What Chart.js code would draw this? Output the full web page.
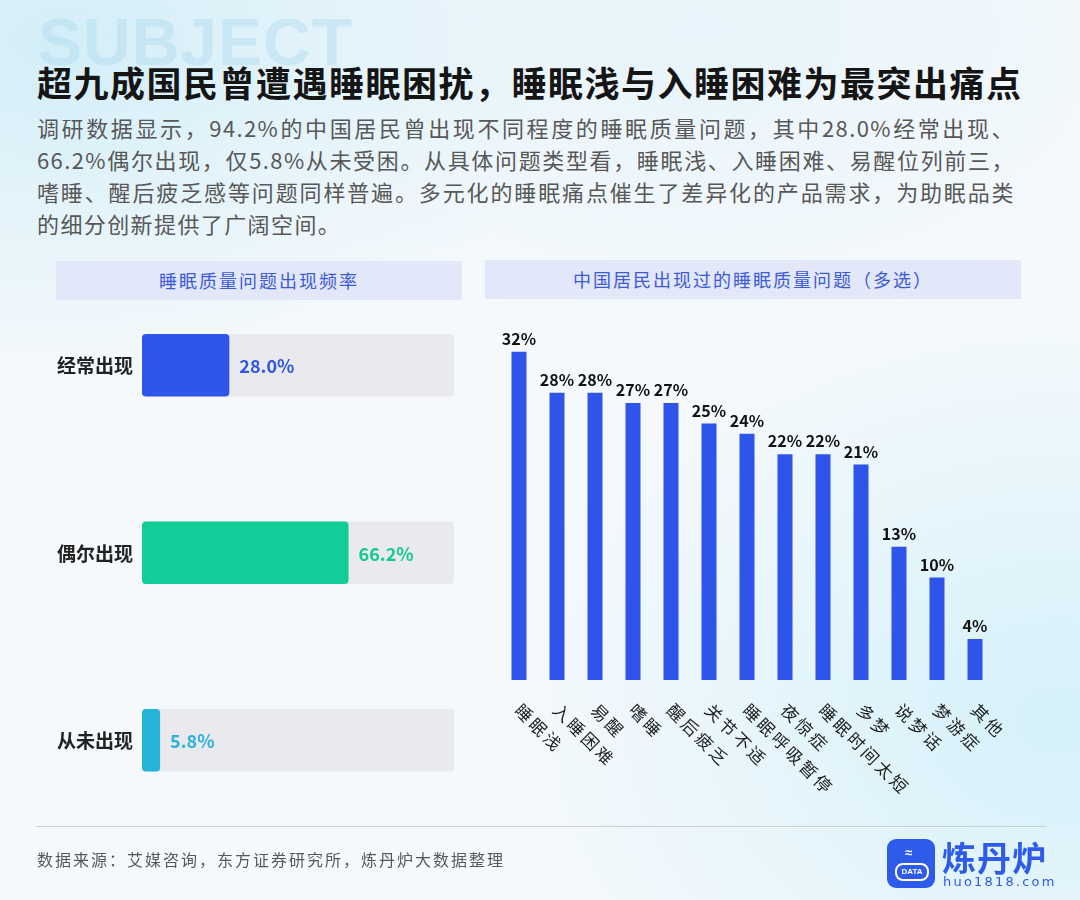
<!DOCTYPE html>
<html>
<head>
<meta charset="utf-8">
<script src="https://cdn.jsdelivr.net/npm/chart.js@4/dist/chart.umd.min.js"></script>
<style>
  html, body { margin:0; padding:0; }
  body {
    width:1080px; height:900px; position:relative; overflow:hidden;
    font-family:"Noto Sans CJK SC","Noto Sans",sans-serif;
    background:
      radial-gradient(ellipse 520px 340px at 60px 40px, rgba(205,236,248,0.85), rgba(205,236,248,0) 100%),
      radial-gradient(ellipse 560px 420px at 1060px 720px, rgba(210,240,250,0.9), rgba(210,240,250,0) 100%),
      radial-gradient(ellipse 500px 300px at 700px 30px, rgba(225,242,250,0.7), rgba(225,242,250,0) 100%),
      #F5F9FC;
  }
  .abs { position:absolute; }
  #wm { left:38px; top:2px; font-family:"Liberation Sans","DejaVu Sans",sans-serif; font-weight:bold; font-size:66px; color:rgba(170,215,238,0.4); letter-spacing:1px; line-height:80px; }
  #title { left:37px; top:62px; font-size:35px; font-weight:bold; color:#151515; letter-spacing:1.5px; line-height:40px; white-space:nowrap; }
  .sub { left:37px; width:978px; font-size:22px; letter-spacing:1.4px; color:#585858; line-height:32px; }
  .sub.j { text-align:justify; text-align-last:justify; }
  .hdr { height:39px; background:#E2E7FA; color:#3D5AD8; font-size:18px; letter-spacing:2px; line-height:39px; text-align:center; z-index:5; }
  #footline { left:36px; top:826px; width:1010px; height:1px; background:#CFCFCF; }
  #src { left:37px; top:846px; font-size:16px; letter-spacing:2px; color:#585858; line-height:26px; }
  #logo { left:887px; top:839px; width:48px; height:49px; border-radius:9px; background:#2F5BEA; }
  #logo .cup { position:absolute; left:8px; top:24px; width:30px; height:14px; border:2px solid #fff; border-radius:8px; color:#fff; font-size:8px; font-weight:bold; line-height:14px; text-align:center; font-family:"Liberation Sans",sans-serif; }
  #logo .steam { position:absolute; left:18px; top:7px; color:#fff; font-size:13px; font-weight:bold; line-height:14px; font-family:"Liberation Sans",sans-serif; }
  #brand { left:942px; top:838px; font-size:34px; font-weight:bold; color:#2F5BEA; line-height:38px; letter-spacing:1px; }
  #url { left:943px; top:874px; font-size:13px; letter-spacing:2.2px; color:#2F5BEA; line-height:16px; font-family:"DejaVu Sans","Noto Sans",sans-serif; }
  canvas { position:absolute; }
</style>
</head>
<body>
<div id="wm" class="abs">SUBJECT</div>
<div id="title" class="abs">超九成国民曾遭遇睡眠困扰，睡眠浅与入睡困难为最突出痛点</div>
<div class="abs sub j" style="top:111px;">调研数据显示，94.2%的中国居民曾出现不同程度的睡眠质量问题，其中28.0%经常出现、</div>
<div class="abs sub j" style="top:143px;">66.2%偶尔出现，仅5.8%从未受困。从具体问题类型看，睡眠浅、入睡困难、易醒位列前三，</div>
<div class="abs sub j" style="top:175px;">嗜睡、醒后疲乏感等问题同样普遍。多元化的睡眠痛点催生了差异化的产品需求，为助眠品类</div>
<div class="abs sub" style="top:207px;">的细分创新提供了广阔空间。</div>

<div class="abs hdr" style="left:56px; top:261px; width:406px;">睡眠质量问题出现频率</div>
<div class="abs hdr" style="left:485px; top:260px; width:536px;">中国居民出现过的睡眠质量问题（多选）</div>

<canvas id="left" width="440" height="590" style="left:30px; top:260px; width:440px; height:590px;"></canvas>
<canvas id="right" width="514" height="540" style="left:490px; top:300px; width:514px; height:540px;"></canvas>

<div id="footline" class="abs"></div>
<div id="src" class="abs">数据来源：艾媒咨询，东方证券研究所，炼丹炉大数据整理</div>
<div id="logo" class="abs"><div class="steam">≈</div><div class="cup">DATA</div></div>
<div id="brand" class="abs">炼丹炉</div>
<div id="url" class="abs">huo1818.com</div>

<script>
// ---------- data ----------
const freqCategories = ['经常出现', '偶尔出现', '从未出现'];
const freqValues = [28.0, 66.2, 5.8];
const freqTrack = [100, 100, 100];
const freqColors = ['#2F55E9', '#12CD9A', '#25B3D8'];
const freqLabelColors = ['#3156E2', '#14C995', '#2AB1DC'];

const issueCategories = ['睡眠浅', '入睡困难', '易醒', '嗜睡', '醒后疲乏', '关节不适', '睡眠呼吸暂停', '夜惊症', '睡眠时间太短', '多梦', '说梦话', '梦游症', '其他'];
const issueValues = [32, 28, 28, 27, 27, 25, 24, 22, 22, 21, 13, 10, 4];

const FONT = '"Noto Sans CJK SC", "Noto Sans", sans-serif';

// ---------- left chart: horizontal bars ----------
const leftLabels = {
  id: 'leftLabels',
  afterDatasetsDraw(chart) {
    const ctx = chart.ctx;
    const meta = chart.getDatasetMeta(0);
    const yScale = chart.scales.y;
    const area = chart.chartArea;
    ctx.save();
    ctx.textBaseline = 'middle';
    meta.data.forEach((el, i) => {
      ctx.font = 'bold 18px ' + FONT;
      ctx.fillStyle = freqLabelColors[i];
      ctx.textAlign = 'left';
      ctx.fillText(freqValues[i].toFixed(1) + '%', el.x + 10, el.y + 1);
      ctx.font = 'bold 19px ' + FONT;
      ctx.fillStyle = '#222222';
      ctx.textAlign = 'right';
      ctx.fillText(freqCategories[i], area.left - 9, yScale.getPixelForValue(i) + 1);
    });
    ctx.restore();
  }
};

new Chart(document.getElementById('left'), {
  type: 'bar',
  data: {
    labels: freqCategories,
    datasets: [
      { data: freqValues, backgroundColor: freqColors, borderRadius: 4, borderSkipped: false,
        grouped: false, order: 1, barPercentage: 0.333, categoryPercentage: 1 },
      { data: freqTrack, backgroundColor: '#EAEAEE', borderRadius: 4, borderSkipped: false,
        grouped: false, order: 2, barPercentage: 0.333, categoryPercentage: 1 }
    ]
  },
  options: {
    indexAxis: 'y',
    responsive: false,
    animation: false,
    layout: { padding: { left: 112, right: 16, top: 11.5, bottom: 16 } },
    plugins: { legend: { display: false }, tooltip: { enabled: false } },
    scales: {
      x: { display: false, min: 0, max: 100 },
      y: { display: false }
    }
  },
  plugins: [leftLabels]
});

// ---------- right chart: vertical bars ----------
const rightLabels = {
  id: 'rightLabels',
  afterDatasetsDraw(chart) {
    const ctx = chart.ctx;
    const meta = chart.getDatasetMeta(0);
    const xScale = chart.scales.x;
    const base = chart.chartArea.bottom;
    ctx.save();
    // value labels
    ctx.font = 'bold 16px ' + FONT;
    ctx.fillStyle = '#111111';
    ctx.textAlign = 'center';
    ctx.textBaseline = 'bottom';
    meta.data.forEach((el, i) => {
      ctx.fillText(issueValues[i] + '%', el.x, el.y - 5);
    });
    // category labels rotated +45deg
    ctx.font = '17px ' + FONT;
    ctx.fillStyle = '#1E1E1E';
    ctx.textAlign = 'left';
    ctx.textBaseline = 'middle';
    try { ctx.letterSpacing = '3px'; } catch (e) {}
    issueCategories.forEach((lab, i) => {
      const x = xScale.getPixelForValue(i) - 1;
      const y = base + 27;
      ctx.save();
      ctx.translate(x, y);
      ctx.rotate(Math.PI / 4);
      ctx.fillText(lab, 0, 0);
      ctx.restore();
    });
    ctx.restore();
  }
};

new Chart(document.getElementById('right'), {
  type: 'bar',
  data: {
    labels: issueCategories,
    datasets: [
      { data: issueValues, backgroundColor: '#2F54E9', barPercentage: 0.395, categoryPercentage: 1 }
    ]
  },
  options: {
    responsive: false,
    animation: false,
    layout: { padding: { left: 10, right: 10, top: 21, bottom: 160 } },
    plugins: { legend: { display: false }, tooltip: { enabled: false } },
    scales: {
      x: { display: false },
      y: { display: false, min: 0, max: 35 }
    }
  },
  plugins: [rightLabels]
});
</script>
</body>
</html>
